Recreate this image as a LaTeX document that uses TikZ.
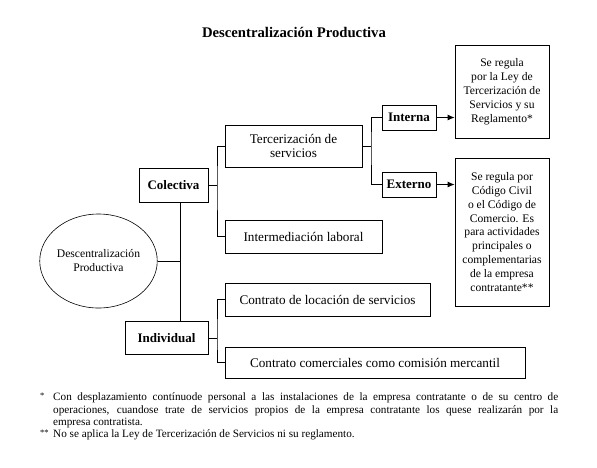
\documentclass[tikz,border=0pt]{standalone}
\usepackage{fontspec}
\setmainfont{Liberation Serif}
\usetikzlibrary{arrows.meta,shapes.geometric}
\begin{document}
\begin{tikzpicture}[x=1pt,y=-1pt,
  bx/.style={draw,line width=0.8pt,inner sep=1pt,align=center,font=\fontsize{13.2}{14.5}\selectfont},
  bb/.style={bx,font=\fontsize{13}{14.5}\selectfont\bfseries},
  tb/.style={bx,font=\fontsize{11.6}{13.9}\selectfont},
  ln/.style={line width=0.8pt},
  ar/.style={ln,-{Latex[length=7pt,width=6pt]}},
  mk/.style={anchor=north west,inner sep=0pt,font=\fontsize{8.5}{12.2}\selectfont},
  fn/.style={anchor=north west,inner sep=0pt,text width=505pt,align=justify,font=\fontsize{11.2}{12.2}\selectfont}]
\useasboundingbox (0,0) rectangle (597,467);
\node[font=\fontsize{14.7}{16}\selectfont\bfseries] (title) at (294,32) {Descentralización Productiva};
\node[draw,ellipse,line width=0.6pt,minimum width=111pt,minimum height=94pt,inner sep=0pt,align=center,font=\fontsize{11.6}{14}\selectfont] (ell) at (98.5,261) {Descentralización\\Productiva};
\node[bb,minimum width=69pt,minimum height=34pt] (col) at (173.5,185) {Colectiva};
\node[bb,minimum width=83pt,minimum height=33pt] (ind) at (166.5,338) {Individual};
\node[bx,minimum width=137pt,minimum height=42pt] (terc) at (293.5,146) {Tercerización de\\servicios};
\node[bx,minimum width=157pt,minimum height=33pt] (inter) at (303.5,236.5) {Intermediación laboral};
\node[bx,minimum width=205pt,minimum height=33pt] (loc) at (327.5,299.5) {Contrato de locación de servicios};
\node[bx,minimum width=300pt,minimum height=31pt] (com) at (375,362.5) {Contrato comerciales como comisión mercantil};
\node[bb,minimum width=54pt,minimum height=25pt] (intn) at (409,117.5) {Interna};
\node[bb,minimum width=54pt,minimum height=25pt] (extn) at (409,184.5) {Externo};
\node[tb,minimum width=94pt,minimum height=93pt] (r1) at (502,91.5) {Se regula\\por la Ley de\\Tercerización de\\Servicios y su\\Reglamento*};
\node[tb,minimum width=94pt,minimum height=148pt] (r2) at (502,232) {Se regula por\\Código Civil\\o el Código de\\Comercio. Es\\para actividades\\principales o\\complementarias\\de la empresa\\contratante**};
\coordinate (tk) at (180,261);
\coordinate (j1) at (217,185);
\coordinate (j2) at (217,338);
\coordinate (j3) at (371,146);
\draw[ln] (ell.east) -- (tk);
\draw[ln] (col.south -| tk) -- (ind.north -| tk);
\draw[ln] (col.east) -- (j1);
\draw[ln] (terc.west) -| (j1) |- (inter.west);
\draw[ln] (ind.east) -- (j2);
\draw[ln] (loc.west) -| (j2) |- (com.west);
\draw[ln] (terc.east) -- (j3);
\draw[ln] (intn.west) -| (j3) |- (extn.west);
\draw[ar] (intn.east) -- (intn.east -| r1.west);
\draw[ar] (extn.east) -- (extn.east -| r2.west);
\node[mk] (m1) at (40,393) {*};
\node[fn] (f1) at (53,393) {Con desplazamiento contínuode personal a las instalaciones de la empresa contratante o de su centro de\linebreak operaciones, cuandose trate de servicios propios de la empresa contratante los quese realizarán por la\linebreak empresa contratista.};
\node[mk] (m2) at (40,429.6) {**};
\node[fn] (f2) at (53,429.6) {No se aplica la Ley de Tercerización de Servicios ni su reglamento.};
\end{tikzpicture}
\end{document}
